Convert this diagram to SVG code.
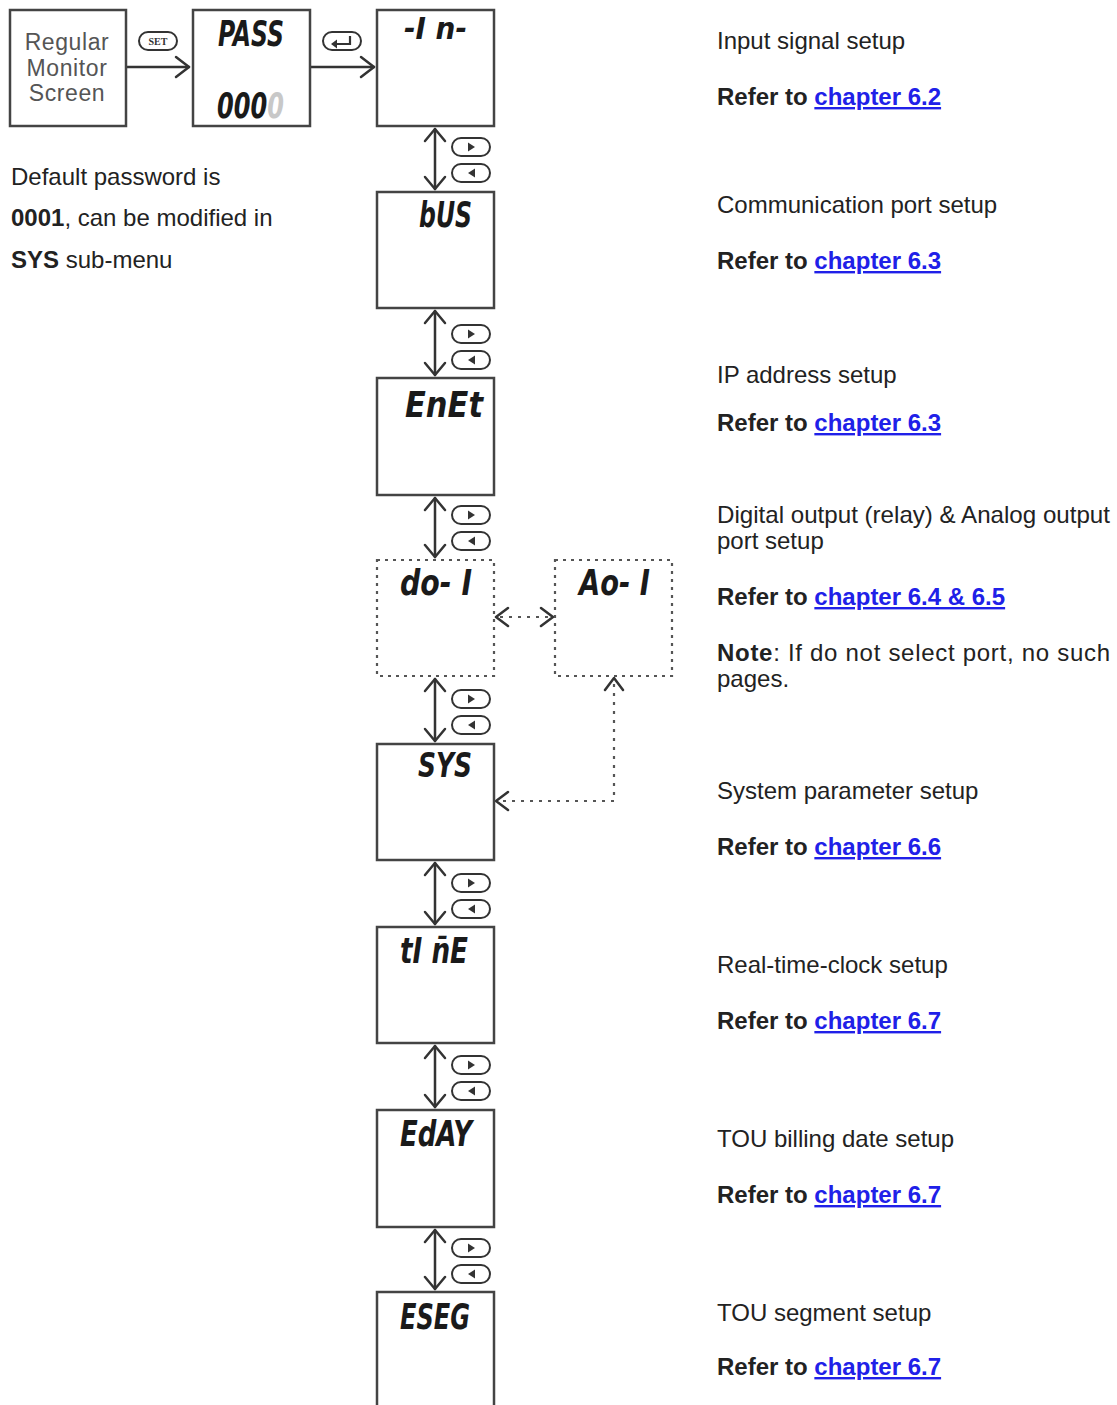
<svg xmlns="http://www.w3.org/2000/svg" width="1117" height="1405" viewBox="0 0 1117 1405">
<defs>
<linearGradient id="lastDigitGray" x1="0" y1="0" x2="1" y2="0">
  <stop offset="0" stop-color="#1a1a1a"/>
  <stop offset="0.74" stop-color="#1a1a1a"/>
  <stop offset="0.74" stop-color="#c8c8c8"/>
  <stop offset="1" stop-color="#c8c8c8"/>
</linearGradient>
<style>
.box{fill:#fff;stroke:#444;stroke-width:2.5}
.dbox{fill:#fff;stroke:#555;stroke-width:2.2;stroke-dasharray:3 5}
.line{fill:none;stroke:#333;stroke-width:2.5;stroke-linecap:round;stroke-linejoin:round}
.dline{fill:none;stroke:#555;stroke-width:2.2;stroke-dasharray:3 6}
.head{fill:none;stroke:#333;stroke-width:2.5;stroke-linecap:round;stroke-linejoin:round}
.pill{fill:#fff;stroke:#333;stroke-width:2}
.tri{fill:#333}
.seg{font-family:"DejaVu Sans Condensed","DejaVu Sans",sans-serif;font-style:italic;font-weight:bold;fill:#1a1a1a}
.t{font-family:"Liberation Sans",Arial,sans-serif;font-size:24px;fill:#222}
.b{font-weight:bold}
.lnk{fill:#2020e8;font-weight:bold;text-decoration:underline}
.gray{font-family:"Liberation Sans",Arial,sans-serif;font-size:23px;fill:#555;letter-spacing:0.6px}
</style>
</defs>

<g id="connectors">
  <path class="line" d="M126 67 H189"/>
  <path class="head" d="M176 57 L189 67 L176 77"/>
  <path class="line" d="M310 67 H374"/>
  <path class="head" d="M361 57 L374 67 L361 77"/>
  <g>
    <path class="line" d="M435 129 V189"/><path class="head" d="M425 141 L435 129 L445 141 M425 177 L435 189 L445 177"/>
    <path class="line" d="M435 311 V375"/><path class="head" d="M425 323 L435 311 L445 323 M425 363 L435 375 L445 363"/>
    <path class="line" d="M435 498 V557"/><path class="head" d="M425 510 L435 498 L445 510 M425 545 L435 557 L445 545"/>
    <path class="line" d="M435 679 V741"/><path class="head" d="M425 691 L435 679 L445 691 M425 729 L435 741 L445 729"/>
    <path class="line" d="M435 863 V924"/><path class="head" d="M425 875 L435 863 L445 875 M425 912 L435 924 L445 912"/>
    <path class="line" d="M435 1046 V1107"/><path class="head" d="M425 1058 L435 1046 L445 1058 M425 1095 L435 1107 L445 1095"/>
    <path class="line" d="M435 1230 V1289"/><path class="head" d="M425 1242 L435 1230 L445 1242 M425 1277 L435 1289 L445 1277"/>
  </g>
  <path class="dline" d="M500 617 H550"/>
  <path class="head" d="M508 608 L496 617 L508 626 M541 608 L553 617 L541 626"/>
  <path class="dline" d="M614 684 V801 H502"/>
  <path class="head" d="M605 690 L614 678 L623 690 M508 792 L496 801 L508 810"/>
</g>

<g id="buttons">
  <rect class="pill" x="139" y="32" width="38" height="18" rx="9"/>
  <text x="158" y="45" text-anchor="middle" style="font-family:'Liberation Serif',serif;font-size:10px;font-weight:bold;fill:#333">SET</text>
  <rect class="pill" x="323" y="32" width="38" height="18" rx="9"/>
  <path d="M350 36 V44 H334" fill="none" stroke="#333" stroke-width="2.2"/>
  <path class="tri" d="M331 44 L337 39.5 L337 48.5 Z"/>
  <g>
    <rect class="pill" x="452" y="138" width="38" height="18" rx="9"/><path class="tri" d="M468 142.5 L475 147 L468 151.5Z"/>
    <rect class="pill" x="452" y="164" width="38" height="18" rx="9"/><path class="tri" d="M475 168.5 L468 173 L475 177.5Z"/>
    <rect class="pill" x="452" y="325" width="38" height="18" rx="9"/><path class="tri" d="M468 329.5 L475 334 L468 338.5Z"/>
    <rect class="pill" x="452" y="351" width="38" height="18" rx="9"/><path class="tri" d="M475 355.5 L468 360 L475 364.5Z"/>
    <rect class="pill" x="452" y="506" width="38" height="18" rx="9"/><path class="tri" d="M468 510.5 L475 515 L468 519.5Z"/>
    <rect class="pill" x="452" y="532" width="38" height="18" rx="9"/><path class="tri" d="M475 536.5 L468 541 L475 545.5Z"/>
    <rect class="pill" x="452" y="690" width="38" height="18" rx="9"/><path class="tri" d="M468 694.5 L475 699 L468 703.5Z"/>
    <rect class="pill" x="452" y="716" width="38" height="18" rx="9"/><path class="tri" d="M475 720.5 L468 725 L475 729.5Z"/>
    <rect class="pill" x="452" y="874" width="38" height="18" rx="9"/><path class="tri" d="M468 878.5 L475 883 L468 887.5Z"/>
    <rect class="pill" x="452" y="900" width="38" height="18" rx="9"/><path class="tri" d="M475 904.5 L468 909 L475 913.5Z"/>
    <rect class="pill" x="452" y="1056" width="38" height="18" rx="9"/><path class="tri" d="M468 1060.5 L475 1065 L468 1069.5Z"/>
    <rect class="pill" x="452" y="1082" width="38" height="18" rx="9"/><path class="tri" d="M475 1086.5 L468 1091 L475 1095.5Z"/>
    <rect class="pill" x="452" y="1239" width="38" height="18" rx="9"/><path class="tri" d="M468 1243.5 L475 1248 L468 1252.5Z"/>
    <rect class="pill" x="452" y="1265" width="38" height="18" rx="9"/><path class="tri" d="M475 1269.5 L468 1274 L475 1278.5Z"/>
  </g>
</g>

<g id="node-regular">
  <rect class="box" x="10" y="10" width="116" height="116"/>
  <text class="gray" x="67" y="50" text-anchor="middle">Regular</text>
  <text class="gray" x="67" y="76" text-anchor="middle">Monitor</text>
  <text class="gray" x="67" y="101" text-anchor="middle">Screen</text>
</g>
<g id="node-pass">
  <rect class="box" x="193" y="10" width="117" height="116"/>
  <text class="seg" x="218" y="46" font-size="36" textLength="66" lengthAdjust="spacingAndGlyphs">PASS</text>
  <text class="seg" x="217" y="118" font-size="36" textLength="67" lengthAdjust="spacingAndGlyphs" style="fill:url(#lastDigitGray)">0000</text>
</g>
<g id="node-in">
  <rect class="box" x="377" y="10" width="117" height="116"/>
  <text class="seg" x="404" y="39" font-size="30" textLength="63" lengthAdjust="spacingAndGlyphs">-I n-</text>
</g>
<g id="node-bus">
  <rect class="box" x="377" y="192" width="117" height="116"/>
  <text class="seg" x="419" y="227" font-size="36" textLength="53" lengthAdjust="spacingAndGlyphs">bUS</text>
</g>
<g id="node-enet">
  <rect class="box" x="377" y="378" width="117" height="117"/>
  <text class="seg" x="405" y="417" font-size="36" textLength="78" lengthAdjust="spacingAndGlyphs">EnEt</text>
</g>
<g id="node-do1">
  <rect class="dbox" x="377" y="560" width="117" height="116"/>
  <text class="seg" x="400" y="595" font-size="36" textLength="72" lengthAdjust="spacingAndGlyphs">do- I</text>
</g>
<g id="node-ao1">
  <rect class="dbox" x="555" y="560" width="117" height="116"/>
  <text class="seg" x="579" y="595" font-size="36" textLength="71" lengthAdjust="spacingAndGlyphs">Ao- I</text>
</g>
<g id="node-sys">
  <rect class="box" x="377" y="744" width="117" height="116"/>
  <text class="seg" x="418" y="777" font-size="34" textLength="54" lengthAdjust="spacingAndGlyphs">SYS</text>
</g>
<g id="node-time">
  <rect class="box" x="377" y="927" width="117" height="116"/>
  <text class="seg" x="400" y="963" font-size="36" textLength="68" lengthAdjust="spacingAndGlyphs">tI n̄E</text>
</g>
<g id="node-eday">
  <rect class="box" x="377" y="1110" width="117" height="117"/>
  <text class="seg" x="400" y="1146" font-size="36" textLength="72" lengthAdjust="spacingAndGlyphs">EdAY</text>
</g>
<g id="node-eseg">
  <rect class="box" x="377" y="1292" width="117" height="130"/>
  <text class="seg" x="400" y="1329" font-size="36" textLength="70" lengthAdjust="spacingAndGlyphs">ESEG</text>
</g>

<g id="left-note">
  <text class="t" x="11" y="185">Default password is</text>
  <text class="t" x="11" y="226"><tspan class="b">0001</tspan>, can be modified in</text>
  <text class="t" x="11" y="268"><tspan class="b">SYS</tspan> sub-menu</text>
</g>

<g id="descriptions">
  <text class="t" x="717" y="49">Input signal setup</text>
  <text class="t" x="717" y="105"><tspan class="b">Refer to </tspan><tspan class="lnk">chapter 6.2</tspan></text>
  <text class="t" x="717" y="213">Communication port setup</text>
  <text class="t" x="717" y="269"><tspan class="b">Refer to </tspan><tspan class="lnk">chapter 6.3</tspan></text>
  <text class="t" x="717" y="383">IP address setup</text>
  <text class="t" x="717" y="431"><tspan class="b">Refer to </tspan><tspan class="lnk">chapter 6.3</tspan></text>
  <text class="t" x="717" y="523" textLength="393" lengthAdjust="spacingAndGlyphs">Digital output (relay) &amp; Analog output</text>
  <text class="t" x="717" y="549">port setup</text>
  <text class="t" x="717" y="605"><tspan class="b">Refer to </tspan><tspan class="lnk">chapter 6.4 &amp; 6.5</tspan></text>
  <text class="t" x="717" y="661" textLength="393" lengthAdjust="spacing"><tspan class="b">Note</tspan>: If do not select port, no such</text>
  <text class="t" x="717" y="687">pages.</text>
  <text class="t" x="717" y="799">System parameter setup</text>
  <text class="t" x="717" y="855"><tspan class="b">Refer to </tspan><tspan class="lnk">chapter 6.6</tspan></text>
  <text class="t" x="717" y="973">Real-time-clock setup</text>
  <text class="t" x="717" y="1029"><tspan class="b">Refer to </tspan><tspan class="lnk">chapter 6.7</tspan></text>
  <text class="t" x="717" y="1147">TOU billing date setup</text>
  <text class="t" x="717" y="1203"><tspan class="b">Refer to </tspan><tspan class="lnk">chapter 6.7</tspan></text>
  <text class="t" x="717" y="1321">TOU segment setup</text>
  <text class="t" x="717" y="1375"><tspan class="b">Refer to </tspan><tspan class="lnk">chapter 6.7</tspan></text>
</g>
</svg>
